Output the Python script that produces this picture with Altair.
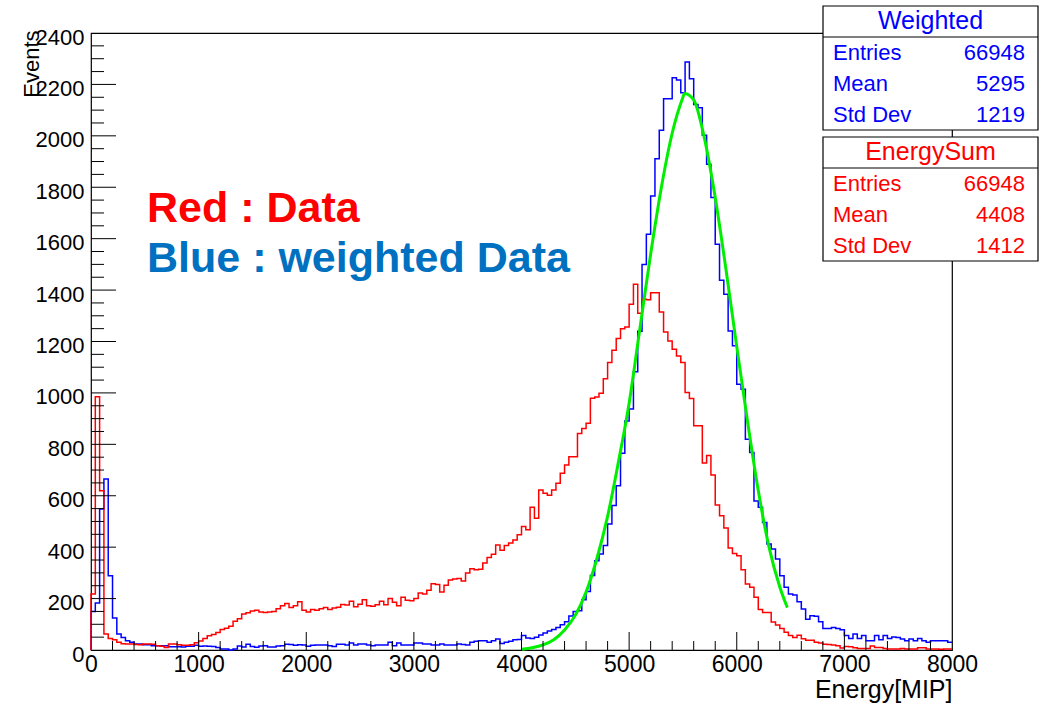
import altair as alt
import pandas as pd

BIN_WIDTH = 40  # MIP per bin, 200 bins over 0..8000

# "EnergySum" histogram (red), counts per 40-MIP bin
red_counts = [
    218, 985, 619, 62, 45, 40, 30, 24, 23, 23,
    21, 20, 23, 23, 22, 17, 15, 10, 23, 23,
    20, 18, 18, 20, 28, 35, 45, 55, 60, 68,
    80, 85, 92, 112, 122, 140, 145, 152, 155, 148,
    146, 148, 150, 160, 172, 181, 165, 172, 188, 155,
    148, 158, 155, 160, 165, 158, 163, 166, 177, 175,
    190, 168, 178, 195, 172, 170, 176, 190, 176, 200,
    186, 172, 205, 194, 192, 200, 222, 218, 232, 258,
    255, 226, 252, 272, 276, 278, 268, 300, 316, 312,
    314, 338, 360, 372, 408, 388, 406, 416, 428, 448,
    480, 468, 555, 512, 622, 610, 602, 622, 649, 688,
    720, 752, 752, 842, 862, 882, 979, 984, 999, 1055,
    1118, 1166, 1212, 1250, 1256, 1345, 1423, 1310, 1364, 1362,
    1390, 1390, 1315, 1237, 1202, 1170, 1144, 1118, 1002, 978,
    872, 872, 727, 757, 681, 564, 522, 475, 397, 375,
    367, 312, 257, 244, 205, 158, 146, 146, 109, 97,
    84, 69, 56, 49, 57, 44, 38, 38, 30, 27,
    22, 21, 19, 17, 8, 14, 13, 9, 6, 6,
    6, 16, 10, 10, 6, 4, 4, 4, 6, 4,
    4, 4, 9, 9, 4, 4, 4, 3, 4, 4,
]

# "Weighted" histogram (blue)
blue_counts = [
    150, 183, 548, 665, 289, 124, 62, 49, 36, 30,
    23, 23, 20, 20, 17, 17, 17, 17, 13, 13,
    13, 12, 15, 15, 18, 15, 16, 15, 14, 10,
    4, 4, 0, 4, 16, 12, 22, 14, 11, 16,
    17, 12, 12, 16, 17, 22, 21, 18, 20, 19,
    15, 18, 19, 19, 19, 17, 14, 22, 22, 19,
    27, 19, 23, 23, 19, 17, 19, 19, 19, 30,
    17, 27, 19, 19, 19, 27, 27, 23, 23, 19,
    19, 23, 19, 19, 19, 23, 21, 19, 30, 34,
    36, 36, 30, 36, 43, 25, 30, 34, 40, 41,
    56, 47, 45, 50, 58, 66, 74, 80, 88, 98,
    110, 132, 150, 153, 195, 228, 290, 347, 373, 406,
    490, 562, 639, 765, 891, 937, 1082, 1240, 1500, 1617,
    1766, 1911, 2022, 2144, 2144, 2226, 2217, 2168, 2287, 2222,
    2122, 2109, 2002, 1889, 1760, 1578, 1438, 1384, 1241, 1183,
    1034, 1014, 820, 768, 580, 555, 496, 412, 393, 354,
    289, 244, 218, 214, 188, 159, 120, 133, 131, 110,
    84, 84, 88, 84, 79, 56, 45, 62, 45, 56,
    36, 36, 56, 40, 56, 45, 51, 49, 43, 36,
    43, 36, 45, 36, 30, 36, 36, 36, 36, 30,
]

# Green fit curve
fit_energy = [4005, 4100, 4200, 4300, 4400, 4500, 4600, 4700, 4800, 4900,
              5000, 5100, 5200, 5300, 5400, 5500, 5514, 5600, 5700, 5800,
              5900, 6000, 6100, 6200, 6300, 6400, 6470]
fit_counts = [3, 9, 20, 40, 78, 135, 225, 355, 520, 730,
              960, 1250, 1540, 1800, 2010, 2150, 2165, 2140, 1990, 1760,
              1480, 1180, 890, 620, 400, 245, 165]

x_major = [0, 1000, 2000, 3000, 4000, 5000, 6000, 7000, 8000]
x_minor = [200, 400, 600, 800, 1200, 1400, 1600, 1800, 2200, 2400, 2600, 2800,
           3200, 3400, 3600, 3800, 4200, 4400, 4600, 4800, 5200, 5400, 5600, 5800,
           6200, 6400, 6600, 6800, 7200, 7400, 7600, 7800]
y_major = [0, 200, 400, 600, 800, 1000, 1200, 1400, 1600, 1800, 2000, 2200, 2400]
y_minor = [50, 100, 150, 250, 300, 350, 450, 500, 550, 650, 700, 750, 850, 900, 950,
           1050, 1100, 1150, 1250, 1300, 1350, 1450, 1500, 1550, 1650, 1700, 1750,
           1850, 1900, 1950, 2050, 2100, 2150, 2250, 2300, 2350]

weighted_stats = [("Entries", "66948"), ("Mean", "5295"), ("Std Dev", "1219")]
data_stats = [("Entries", "66948"), ("Mean", "4408"), ("Std Dev", "1412")]

FONT = "Liberation Sans"
W, H = 861, 617
BLUE = "#0000ff"
RED = "#ff0000"


def step_frame(counts):
    edges = [0] + [i * BIN_WIDTH for i in range(len(counts))] + [len(counts) * BIN_WIDTH]
    vals = [0] + list(counts) + [counts[-1]]
    return pd.DataFrame({"E": edges, "N": vals, "k": list(range(len(edges)))})


xscale = alt.Scale(domain=[0, 8000], nice=False, zero=False)
yscale = alt.Scale(domain=[0, 2400], nice=False, zero=False)

xaxis = alt.Axis(values=x_major, format="d", ticks=False, tickSize=0, domain=False, grid=False,
                 labelFont=FONT, labelFontSize=23, labelColor="black", labelPadding=3,
                 labelFlush=False, title="Energy[MIP]", titleFont=FONT, titleFontSize=25,
                 titleFontWeight="normal", titleColor="black", titleAlign="right",
                 titleAnchor="end", titleX=W, titleY=47, titleBaseline="alphabetic")
yaxis = alt.Axis(values=y_major, format="d", ticks=False, tickSize=0, domain=False, grid=False,
                 labelFont=FONT, labelFontSize=22, labelColor="black", labelPadding=7,
                 labelFlush=False, labelBaseline="middle", labelOffset=4,
                 title="Events", titleFont=FONT, titleFontSize=22, titleFontWeight="normal",
                 titleColor="black", titleAngle=270, titleAlign="right", titleAnchor="end",
                 titleX=-53, titleY=-3, titleBaseline="alphabetic")

blue_line = alt.Chart(step_frame(blue_counts)).mark_line(
    interpolate="step-after", color=BLUE, strokeWidth=1.5
).encode(
    x=alt.X("E:Q", scale=xscale, axis=xaxis),
    y=alt.Y("N:Q", scale=yscale, axis=yaxis),
    order="k:Q",
)

red_line = alt.Chart(step_frame(red_counts)).mark_line(
    interpolate="step-after", color=RED, strokeWidth=1.5
).encode(x="E:Q", y="N:Q", order="k:Q")

fit_line = alt.Chart(pd.DataFrame({"E": fit_energy, "N": fit_counts})).mark_line(
    interpolate="monotone", color="#00ee00", strokeWidth=3
).encode(x="E:Q", y="N:Q")

xmaj = alt.Chart(pd.DataFrame({"E": x_major[1:-1]})).mark_rule(color="black", strokeWidth=1).encode(
    x="E:Q", y=alt.value(H), y2=alt.value(H - 18))
xmin = alt.Chart(pd.DataFrame({"E": x_minor})).mark_rule(color="black", strokeWidth=1).encode(
    x="E:Q", y=alt.value(H), y2=alt.value(H - 9))
ymaj = alt.Chart(pd.DataFrame({"N": y_major[1:-1]})).mark_rule(color="black", strokeWidth=1).encode(
    y="N:Q", x=alt.value(0), x2=alt.value(25))
ymin = alt.Chart(pd.DataFrame({"N": y_minor})).mark_rule(color="black", strokeWidth=1).encode(
    y="N:Q", x=alt.value(0), x2=alt.value(13))

one = pd.DataFrame({"a": [0]})


def txt(s, x, y, color, size, align="left", weight="normal"):
    return alt.Chart(one).mark_text(
        text=s, color=color, fontSize=size, font=FONT, align=align,
        baseline="alphabetic", fontWeight=weight
    ).encode(x=alt.value(x), y=alt.value(y))


def stats_box(title, rows, color, top):
    left, right = 732, 947
    bottom = top + 124
    sep = top + 31
    layers = [
        alt.Chart(one).mark_rect(fill="white", stroke="black", strokeWidth=1.2).encode(
            x=alt.value(left), x2=alt.value(right), y=alt.value(top), y2=alt.value(bottom)),
        alt.Chart(one).mark_rule(color="black", strokeWidth=1.2).encode(
            x=alt.value(left), x2=alt.value(right), y=alt.value(sep)),
        txt(title, (left + right) / 2, top + 23, color, 25, align="center"),
    ]
    for i, (lab, val) in enumerate(rows):
        yb = top + 54 + i * 31
        layers.append(txt(lab, 742, yb, color, 22))
        layers.append(txt(val, 934, yb, color, 22, align="right"))
    return layers


annotations = [
    txt("Red : Data", 56, 189, RED, 43, weight="bold"),
    txt("Blue : weighted Data", 56, 239, "#0070c0", 43, weight="bold"),
]

layers = [blue_line, red_line, fit_line, xmaj, xmin, ymaj, ymin] + annotations
layers += stats_box("Weighted", weighted_stats, BLUE, -27)
layers += stats_box("EnergySum", data_stats, RED, 104)

chart = alt.layer(*layers).properties(
    width=W, height=H,
    autosize=alt.AutoSizeParams(type="none"),
    padding={"left": 91, "top": 33, "right": 96, "bottom": 55},
    background="white",
).configure_view(stroke="black", strokeWidth=1.2)

chart.save("out.html", embed_options={"renderer": "svg", "actions": False})
